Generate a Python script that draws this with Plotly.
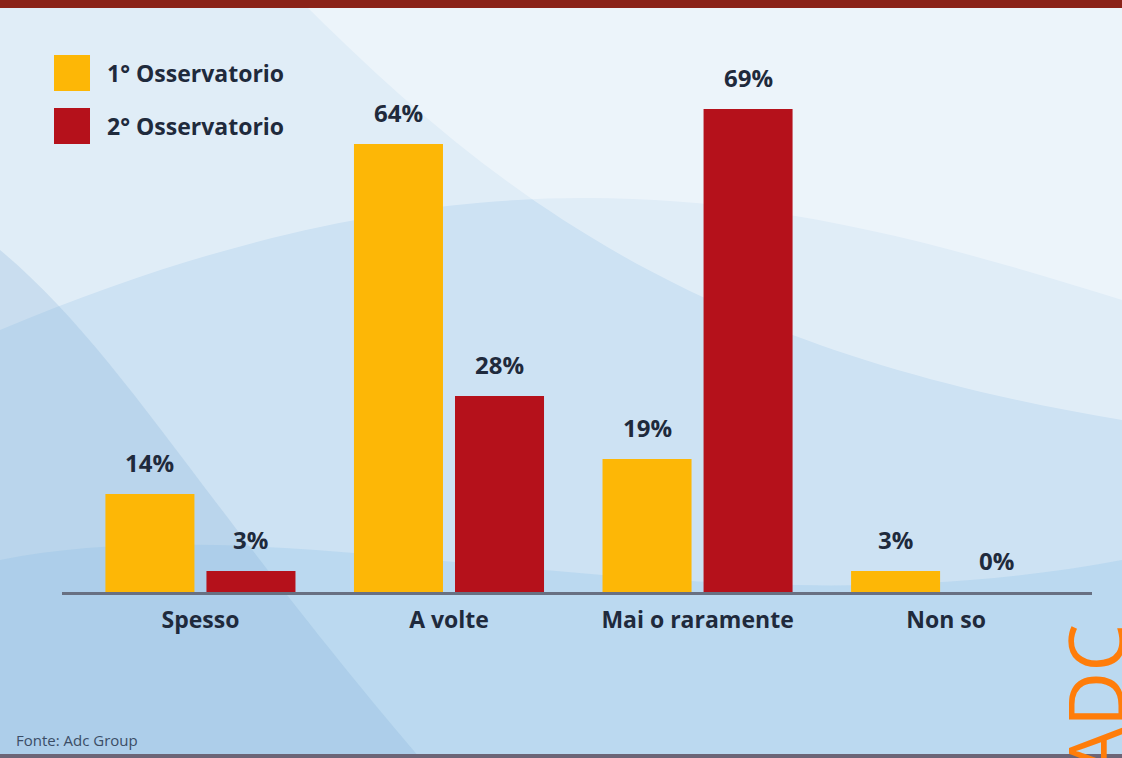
import plotly.graph_objects as go

categories = ["Spesso", "A volte", "Mai o raramente", "Non so"]
series_names = ["1° Osservatorio", "2° Osservatorio"]
obs1 = [14, 64, 19, 3]
obs2 = [3, 28, 69, 0]
colors = ["#FDB706", "#B5111B"]

W, H = 1122, 758
ML, MR, MT, MB = 62, 30, 60, 166
PW, PH = W - ML - MR, H - MT - MB

def px(x):
    return (x - ML) / PW

def py(y):
    return 1 - (y - MT) / PH

TXT = "#1f2a3c"
FONT = "Open Sans"

fig = go.Figure()
for name, vals, col in zip(series_names, [obs1, obs2], colors):
    fig.add_trace(go.Bar(x=categories, y=vals, name=name, marker_color=col,
                         marker_line_width=0, showlegend=False))

shapes = []
# background soft waves
shapes.append(dict(type="path", xref="paper", yref="paper",
                   path=f"M {px(0)},{py(0)} L {px(W)},{py(0)} L {px(W)},{py(300)} C {px(800)},{py(200)} {px(500)},{py(120)} {px(0)},{py(330)} Z",
                   fillcolor="rgba(255,255,255,0.38)", line_width=0, layer="below"))
shapes.append(dict(type="path", xref="paper", yref="paper",
                   path=f"M {px(300)},{py(0)} C {px(500)},{py(200)} {px(700)},{py(350)} {px(1122)},{py(420)} L {px(1122)},{py(0)} Z",
                   fillcolor="rgba(255,255,255,0.38)", line_width=0, layer="below"))
shapes.append(dict(type="path", xref="paper", yref="paper",
                   path=f"M {px(0)},{py(560)} C {px(300)},{py(500)} {px(700)},{py(640)} {px(1122)},{py(560)} L {px(1122)},{py(758)} L {px(0)},{py(758)} Z",
                   fillcolor="rgba(140,195,235,0.28)", line_width=0, layer="below"))
shapes.append(dict(type="path", xref="paper", yref="paper",
                   path=f"M {px(0)},{py(250)} C {px(120)},{py(350)} {px(200)},{py(500)} {px(420)},{py(758)} L {px(0)},{py(758)} Z",
                   fillcolor="rgba(130,175,215,0.25)", line_width=0, layer="below"))
# top and bottom strips
shapes.append(dict(type="rect", xref="paper", yref="paper", x0=px(0), x1=px(W), y0=py(0), y1=py(8),
                   fillcolor="#8a2218", line_width=0))
shapes.append(dict(type="rect", xref="paper", yref="paper", x0=px(0), x1=px(W), y0=py(754), y1=py(758),
                   fillcolor="#6c6577", line_width=0))
# legend squares
for i, col in enumerate(colors):
    y0 = 55 + i * 53
    shapes.append(dict(type="rect", xref="paper", yref="paper", x0=px(54), x1=px(90),
                       y0=py(y0), y1=py(y0 + 36), fillcolor=col, line_width=0))

annotations = []
for i, name in enumerate(series_names):
    annotations.append(dict(xref="paper", yref="paper", x=px(105), y=py(73 + i * 53),
                            xanchor="left", yanchor="middle", text=name, showarrow=False,
                            font=dict(family=FONT, size=23, color=TXT, weight=700)))
offset = (1 - 0.187) / 4
for j, vals in enumerate([obs1, obs2]):
    for i, v in enumerate(vals):
        annotations.append(dict(x=i + (-offset if j == 0 else offset), y=v, xref="x", yref="y",
                                text=f"{v}%", showarrow=False, yanchor="bottom", yshift=13,
                                font=dict(family=FONT, size=24, color=TXT, weight=700)))
annotations.append(dict(xref="paper", yref="paper", x=px(14), y=py(740), xanchor="left",
                        yanchor="middle", text="Fonte: Adc Group", showarrow=False,
                        font=dict(family=FONT, size=15, color="#3b4d66")))
annotations.append(dict(xref="paper", yref="paper", x=px(1094), y=py(700), xanchor="center",
                        yanchor="middle", text="ADC", textangle=-90, showarrow=False,
                        font=dict(family=FONT, size=76, color="#FF7D0A")))

fig.update_layout(
    width=W, height=H,
    margin=dict(l=ML, r=MR, t=MT, b=MB),
    paper_bgcolor="#cde2f3",
    plot_bgcolor="rgba(0,0,0,0)",
    barmode="group", bargap=0.187, bargroupgap=0.119,
    shapes=shapes, annotations=annotations,
    xaxis=dict(range=[-0.557, 3.587], showline=True, linecolor="#687082", linewidth=3,
               showgrid=False, ticks="outside", ticklen=5, tickcolor="rgba(0,0,0,0)",
               tickfont=dict(family=FONT, size=23, color=TXT, weight=700)),
    yaxis=dict(range=[0, 76], visible=False, showgrid=False, zeroline=False),
)

fig.write_html("out.html")
